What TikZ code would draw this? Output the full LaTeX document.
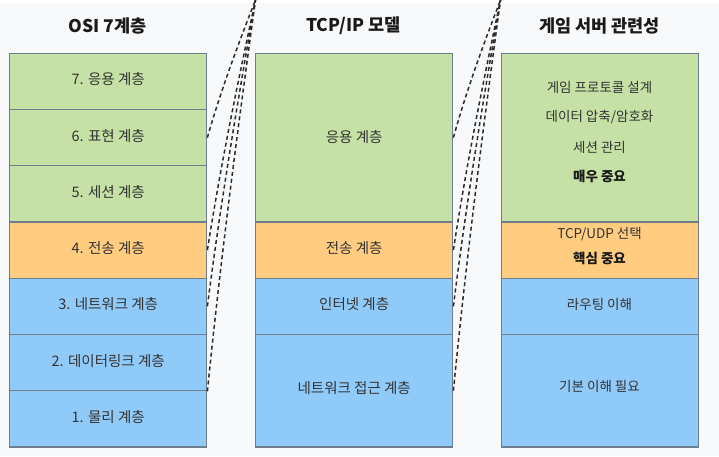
\documentclass[tikz,border=0pt]{standalone}
\usepackage{fontspec}
\setmainfont{Noto Sans CJK KR}
\usetikzlibrary{calc}
\definecolor{bggray}{HTML}{F8F9FB}
\definecolor{appgreen}{HTML}{C5E1A5}
\definecolor{traorange}{HTML}{FFCC80}
\definecolor{netblue}{HTML}{90CAF9}
\definecolor{edgegray}{HTML}{6E7D8C}
\definecolor{txt}{HTML}{333333}
\definecolor{ttl}{HTML}{1A1A1A}
\definecolor{dashc}{HTML}{2B2B2B}
\begin{document}
\begin{tikzpicture}[x=1pt,y=-1pt,
  layerbox/.style={draw=edgegray,line width=1.4pt,anchor=north west,inner sep=0pt,minimum width=197pt},
  lbl/.style={text=txt,font=\fontsize{14.5}{16}\selectfont,inner sep=0pt},
  glbl/.style={text=txt,font=\fontsize{13.5}{15}\selectfont,inner sep=0pt},
  gbold/.style={text=ttl,font=\fontsize{13.5}{15}\selectfont\bfseries,inner sep=0pt},
  ttlnode/.style={text=ttl,font=\fontsize{17.5}{20}\selectfont\bfseries,inner sep=0pt},
  mapline/.style={draw=dashc,line width=1.5pt,dash pattern=on 4pt off 3pt}
]
\useasboundingbox (0,0) rectangle (719,456);
\fill[white] (0,0) rectangle (719,456);
\fill[bggray] (0,3) rectangle (719,456);

% titles
\node[ttlnode] (t1) at (107.5,26) {OSI 7계층};
\node[ttlnode] (t2) at (353.5,26) {TCP/IP 모델};
\node[ttlnode] (t3) at (599.5,26) {게임 서버 관련성};

% OSI column
\node[layerbox,fill=appgreen,minimum height=56.25pt] (o7) at (9,52.5) {};
\node[layerbox,fill=appgreen,minimum height=56.25pt] (o6) at (9,108.75) {};
\node[layerbox,fill=appgreen,minimum height=56.25pt] (o5) at (9,165) {};
\node[layerbox,fill=traorange,minimum height=56.25pt] (o4) at (9,221.25) {};
\node[layerbox,fill=netblue,minimum height=56.25pt] (o3) at (9,277.5) {};
\node[layerbox,fill=netblue,minimum height=56.25pt] (o2) at (9,333.75) {};
\node[layerbox,fill=netblue,minimum height=56.25pt] (o1) at (9,390) {};
\node[lbl] (o7t) at ($(o7.center)+(0,-2)$) {7. 응용 계층};
\node[lbl] (o6t) at ($(o6.center)+(0,-2)$) {6. 표현 계층};
\node[lbl] (o5t) at ($(o5.center)+(0,-2)$) {5. 세션 계층};
\node[lbl] (o4t) at ($(o4.center)+(0,-2)$) {4. 전송 계층};
\node[lbl] (o3t) at ($(o3.center)+(0,-2)$) {3. 네트워크 계층};
\node[lbl] (o2t) at ($(o2.center)+(0,-2)$) {2. 데이터링크 계층};
\node[lbl] (o1t) at ($(o1.center)+(0,-2)$) {1. 물리 계층};

% TCP/IP column
\node[layerbox,fill=appgreen,minimum height=168.75pt] (p4) at (255,52.5) {};
\node[layerbox,fill=traorange,minimum height=56.25pt] (p3) at (255,221.25) {};
\node[layerbox,fill=netblue,minimum height=56.25pt] (p2) at (255,277.5) {};
\node[layerbox,fill=netblue,minimum height=112.5pt] (p1) at (255,333.75) {};
\node[lbl] (p4t) at ($(p4.center)+(0,-1)$) {응용 계층};
\node[lbl] (p3t) at ($(p3.center)+(0,-2)$) {전송 계층};
\node[lbl] (p2t) at ($(p2.center)+(0,-2)$) {인터넷 계층};
\node[lbl] (p1t) at ($(p1.center)+(0,-3)$) {네트워크 접근 계층};

% Game server column
\node[layerbox,fill=appgreen,minimum height=168.75pt] (g4) at (501,52.5) {};
\node[layerbox,fill=traorange,minimum height=56.25pt] (g3) at (501,221.25) {};
\node[layerbox,fill=netblue,minimum height=56.25pt] (g2) at (501,277.5) {};
\node[layerbox,fill=netblue,minimum height=112.5pt] (g1) at (501,333.75) {};
\node[glbl] (g4a) at (599.5,87) {게임 프로토콜 설계};
\node[glbl] (g4b) at (599.5,117) {데이터 압축/암호화};
\node[glbl] (g4c) at (599.5,147) {세션 관리};
\node[gbold] (g4d) at (599.5,176) {매우 중요};
\node[glbl] (g3a) at (599.5,234.5) {TCP/UDP 선택};
\node[gbold] (g3b) at (599.5,258.5) {핵심 중요};
\node[glbl] (g2a) at (599.5,304.5) {라우팅 이해};
\node[glbl] (g1a) at (599.5,386.5) {기본 이해 필요};

% mapping lines
\coordinate (top1) at (255.5,0);
\coordinate (top2) at (500.5,0);
\foreach \s in {o6.east,o4.east,o3.east,o2.south east}{
  \draw[mapline] (\s) .. controls ($(\s)!0.33!(top1)+(-3,0)$) and ($(\s)!0.67!(top1)+(-2,0)$) .. (top1);
}
\foreach \s in {p4.east,p3.east,p2.east,p1.east}{
  \draw[mapline] (\s) .. controls ($(\s)!0.33!(top2)+(-3,0)$) and ($(\s)!0.67!(top2)+(-2,0)$) .. (top2);
}
\end{tikzpicture}
\end{document}
